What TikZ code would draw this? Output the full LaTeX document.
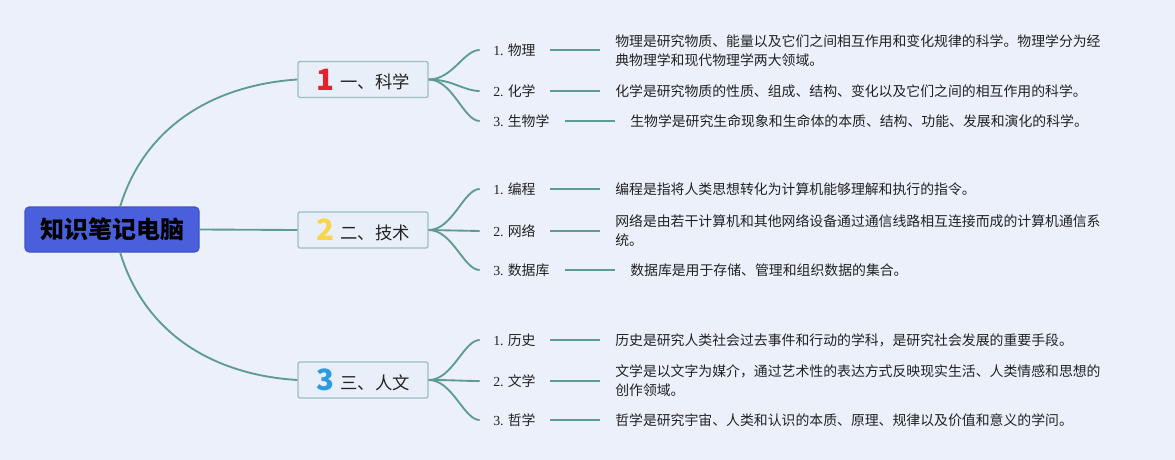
\documentclass[tikz,border=0pt]{standalone}
\usepackage{fontspec}
\setmainfont{Noto Sans CJK SC}
\newfontfamily\latinnum{Liberation Serif}
\definecolor{bg}{HTML}{ECF0FB}
\definecolor{rootfill}{HTML}{4A5FDC}
\definecolor{rootedge}{HTML}{3F52C8}
\definecolor{boxedge}{HTML}{9DBFC2}
\definecolor{boxfill}{HTML}{E8EFF8}
\definecolor{branch}{HTML}{5F9B95}
\definecolor{txt}{HTML}{222222}
\definecolor{numred}{HTML}{E3212F}
\definecolor{numyellow}{HTML}{F6D64C}
\definecolor{numblue}{HTML}{2C9BE2}
\tikzset{
  px/.style={x=0.75pt,y=-0.75pt},
  rootbox/.style={draw=rootedge,fill=rootfill,line width=0.8pt,rounded corners=3pt,minimum width=130.5pt,minimum height=33.75pt,inner sep=0pt,font=\fontsize{18}{20}\selectfont\bfseries,text=black},
  catbox/.style={draw=boxedge,fill=boxfill,line width=1pt,rounded corners=1.5pt,minimum width=97.5pt,minimum height=27pt,inner sep=0pt,font=\fontsize{13}{15}\selectfont,text=txt},
  leaflabel/.style={anchor=west,inner sep=0pt,font=\fontsize{10.4}{12}\selectfont,text=txt},
  desc/.style={anchor=west,inner sep=0pt,align=left,font=\fontsize{10.4}{14.25}\selectfont,text=txt},
  link/.style={draw=branch,line width=1.4pt},
  stub/.style={draw=branch,line width=1.4pt},
}
\newcommand{\bn}[2]{\raisebox{-1pt}{\fontsize{22}{22}\selectfont\bfseries\color{#1}#2}}
\newcommand{\lnum}[1]{{\latinnum #1}}
\begin{document}
\begin{tikzpicture}[px]
\fill[bg] (0,0) rectangle (1175,460);
\useasboundingbox (0,0) rectangle (1175,460);

% root
\node[rootbox] (root) at (112,229.5) {知识笔记电脑};

% categories
\node[catbox] (c1) at (363,79.5) {\bn{numred}{1}\hspace{5pt}一、科学};
\node[catbox] (c2) at (363,230) {\bn{numyellow}{2}\hspace{5pt}二、技术};
\node[catbox] (c3) at (363,380) {\bn{numblue}{3}\hspace{5pt}三、人文};

\coordinate (rt) at (120,207);
\coordinate (rb) at (120,252);
\draw[link] (rt) .. controls (145,125) and (215,85) .. (c1.west);
\draw[link] (root.east) -- (c2.west);
\draw[link] (rb) .. controls (145,335) and (215,375) .. (c3.west);

% leaf labels
\node[leaflabel] (l11) at (493,50) {\lnum{1.} 物理};
\node[leaflabel] (l12) at (493,91) {\lnum{2.} 化学};
\node[leaflabel] (l13) at (493,121) {\lnum{3.} 生物学};
\node[leaflabel] (l21) at (493,189) {\lnum{1.} 编程};
\node[leaflabel] (l22) at (493,231) {\lnum{2.} 网络};
\node[leaflabel] (l23) at (493,270) {\lnum{3.} 数据库};
\node[leaflabel] (l31) at (493,340) {\lnum{1.} 历史};
\node[leaflabel] (l32) at (493,381) {\lnum{2.} 文学};
\node[leaflabel] (l33) at (493,420) {\lnum{3.} 哲学};

% fan curves
\foreach \c/\l in {c1/l11,c1/l12,c1/l13,c2/l21,c2/l23,c3/l31,c3/l32,c3/l33}{
  \draw[link] (\c.east) .. controls ([xshift=18pt]\c.east) and ([xshift=-22pt]\l.west) .. ([xshift=-10pt]\l.west);
}
\draw[link] (c2.east) -- ([xshift=-10pt]l22.west);

% descriptions
\node[desc] (d11) at (615,51) {物理是研究物质、能量以及它们之间相互作用和变化规律的科学。物理学分为经\\典物理学和现代物理学两大领域。};
\node[desc] (d12) at (615,91) {化学是研究物质的性质、组成、结构、变化以及它们之间的相互作用的科学。};
\node[desc] (d13) at (630,121) {生物学是研究生命现象和生命体的本质、结构、功能、发展和演化的科学。};
\node[desc] (d21) at (615,189) {编程是指将人类思想转化为计算机能够理解和执行的指令。};
\node[desc] (d22) at (615,230.5) {网络是由若干计算机和其他网络设备通过通信线路相互连接而成的计算机通信系\\统。};
\node[desc] (d23) at (630,270) {数据库是用于存储、管理和组织数据的集合。};
\node[desc] (d31) at (615,340) {历史是研究人类社会过去事件和行动的学科，是研究社会发展的重要手段。};
\node[desc] (d32) at (615,381) {文学是以文字为媒介，通过艺术性的表达方式反映现实生活、人类情感和思想的\\创作领域。};
\node[desc] (d33) at (615,420) {哲学是研究宇宙、人类和认识的本质、原理、规律以及价值和意义的学问。};

% stubs
\foreach \l/\d in {l11/d11,l12/d12,l13/d13,l21/d21,l22/d22,l23/d23,l31/d31,l32/d32,l33/d33}{
  \draw[stub] ([xshift=-48.75pt]\d.west |- \l.west) -- ([xshift=-11.25pt]\d.west |- \l.west);
}
\end{tikzpicture}
\end{document}
